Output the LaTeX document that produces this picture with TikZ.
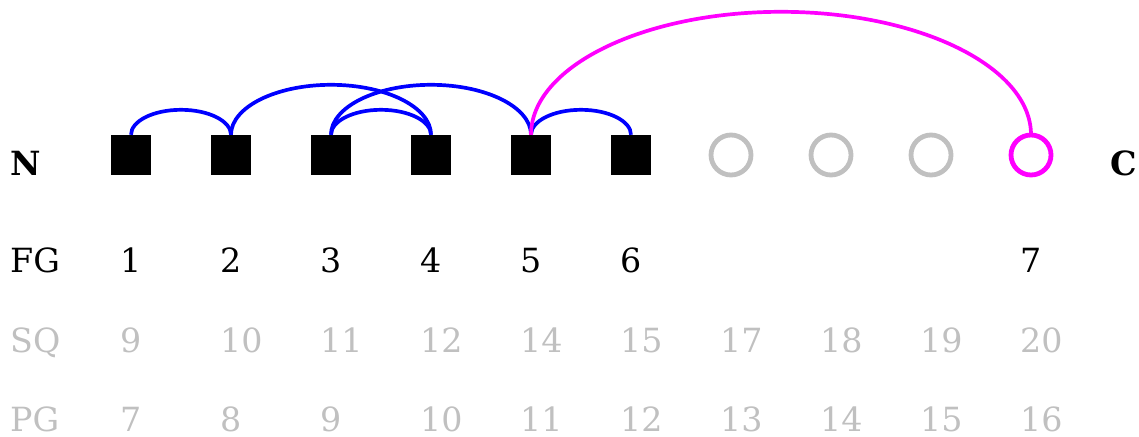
\documentclass[tikz,border=0pt]{standalone}
\usepackage{fontspec}
\setmainfont{DejaVu Serif}
\definecolor{lgray}{RGB}{192,192,192}
\definecolor{mag}{RGB}{255,0,255}
\definecolor{blu}{RGB}{0,0,255}
\begin{document}
\begin{tikzpicture}[x=1pt,y=-1pt,
  sq/.style={fill=black,draw=none,minimum size=40pt,inner sep=0pt},
  ring/.style={draw=lgray,line width=4.8pt,circle,minimum size=40pt,inner sep=0pt},
  ringm/.style={draw=mag,line width=4.8pt,circle,minimum size=40pt,inner sep=0pt},
  lab/.style={anchor=base west,inner sep=0pt,text depth=0pt,font=\fontsize{33.3}{40}\selectfont},
  glab/.style={lab,text=lgray},
  link/.style={draw=blu,line width=3.7pt},
  linkm/.style={draw=mag,line width=3.7pt}]
\useasboundingbox (0,0) rectangle (1139,436);
% squares
\foreach \i in {1,...,6}{
  \node[sq] (s\i) at ({131+100*(\i-1)},155) {};
}
\node[ring] (c1) at (731,155) {};
\node[ring] (c2) at (831,155) {};
\node[ring] (c3) at (931,155) {};
\node[ringm] (c4) at (1031,155) {};
% arcs
\draw[link] (s1.north) arc[start angle=180,end angle=360,x radius=50,y radius=25];
\draw[link] (s2.north) arc[start angle=180,end angle=360,x radius=100,y radius=50];
\draw[link] (s3.north) arc[start angle=180,end angle=360,x radius=50,y radius=25];
\draw[link] (s3.north) arc[start angle=180,end angle=360,x radius=100,y radius=50];
\draw[link] (s5.north) arc[start angle=180,end angle=360,x radius=50,y radius=25];
\draw[linkm] (s5.north) arc[start angle=180,end angle=360,x radius=250,y radius=123];
% row labels
\node[lab,font=\fontsize{33.3}{40}\selectfont\bfseries] (lN) at (10,175) {N};
\node[lab,font=\fontsize{33.3}{40}\selectfont\bfseries] (lC) at (1110,175) {C};
\node[lab] (lFG) at (10,272) {FG};
\node[glab] (lSQ) at (10,352) {SQ};
\node[glab] (lPG) at (10,431) {PG};
% FG numbers
\foreach \i in {1,...,6}{
  \node[lab] (fg\i) at ({120+100*(\i-1)},272) {\i};
}
\node[lab] (fg7) at (1020,272) {7};
% SQ numbers
\foreach \v [count=\i] in {9,10,11,12,14,15,17,18,19,20}{
  \node[glab] (sq\i) at ({120+100*(\i-1)},352) {\v};
}
% PG numbers
\foreach \v [count=\i] in {7,8,9,10,11,12,13,14,15,16}{
  \node[glab] (pg\i) at ({120+100*(\i-1)},431) {\v};
}
\end{tikzpicture}
\end{document}
